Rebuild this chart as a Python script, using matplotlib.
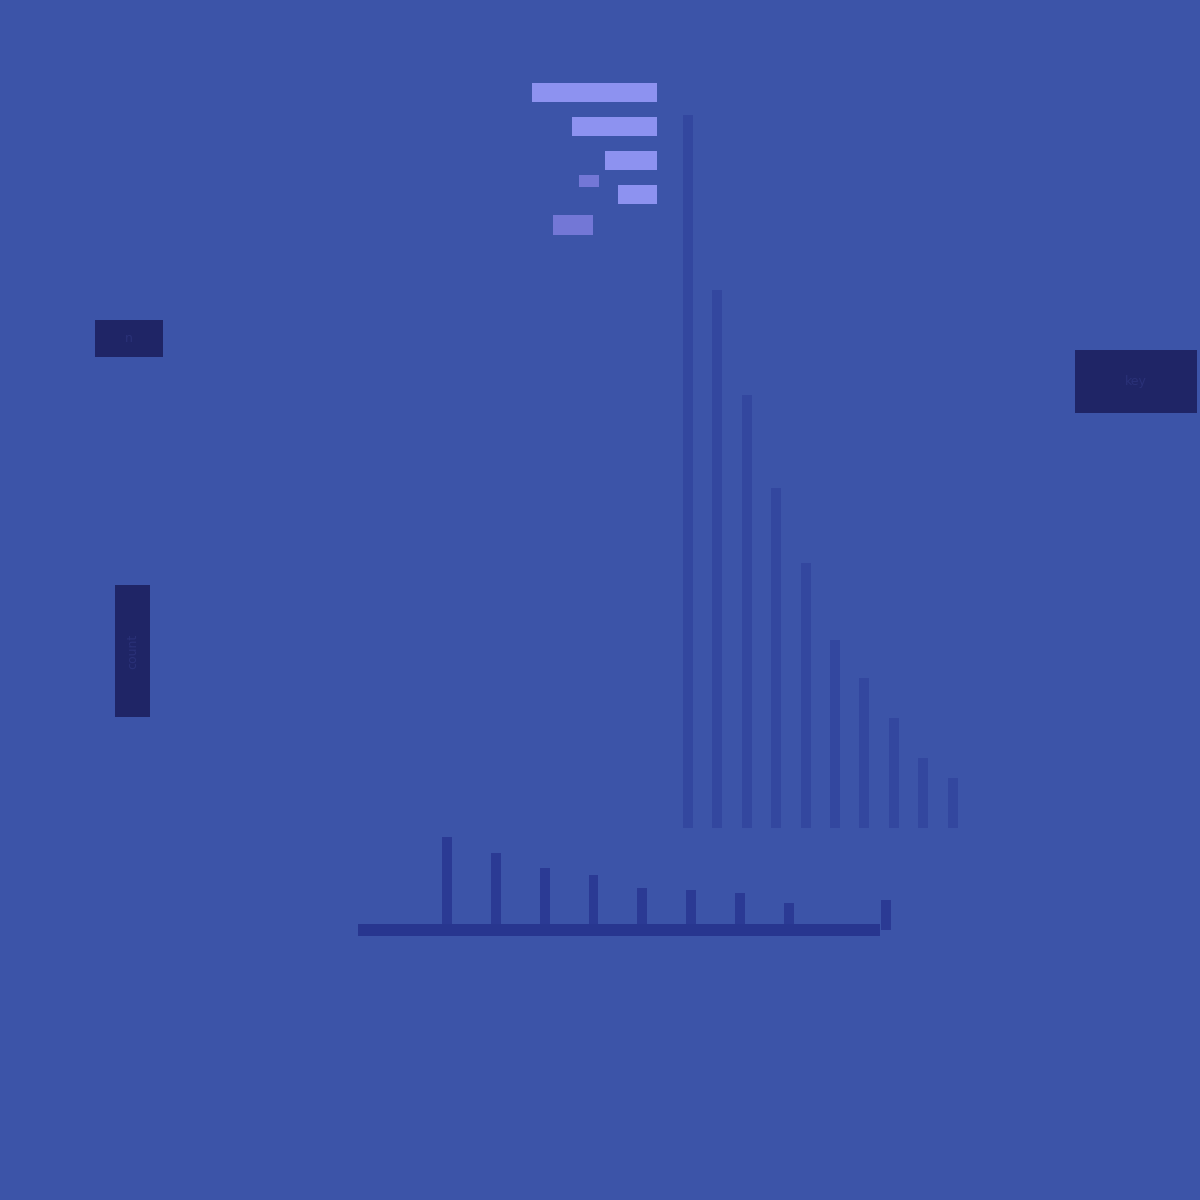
import numpy as np
import matplotlib.pyplot as plt
from matplotlib.patches import Rectangle

# values
tall_values = [713, 538, 433, 340, 265, 188, 150, 110, 70, 50]
low_values = [93, 77, 62, 55, 42, 40, 37, 27, 0, 30]
top_values = [125, 85, 52, 39]

bg = "#3c54a8"
W = H = 1200.0


def fig_rect(x0, y0, x1, y1):
    # pixel box (top-left origin) -> figure fraction [left, bottom, width, height]
    return [x0 / W, 1 - y1 / H, (x1 - x0) / W, (y1 - y0) / H]


fig = plt.figure(figsize=(12, 12), dpi=100, facecolor=bg)

# tall bars
ax_tall = fig.add_axes(fig_rect(673.3, 108, 967.3, 828))
ax_tall.bar(np.arange(len(tall_values)), tall_values, width=0.34,
            color="#33479f", edgecolor="none")
ax_tall.set_xlim(-0.5, len(tall_values) - 0.5)
ax_tall.set_ylim(0, 720)
ax_tall.axis("off")

# short bars on a thick baseline
ax_low = fig.add_axes(fig_rect(358, 830, 880, 930))
ax_low.bar(np.arange(len(low_values)), low_values, width=0.2,
           color="#2b3a94", edgecolor="none", clip_on=False)
ax_low.set_xlim(-1.824, 8.87)
ax_low.set_ylim(0, 100)
ax_low.set_facecolor("none")
for s in ["top", "right", "left"]:
    ax_low.spines[s].set_visible(False)
ax_low.spines["bottom"].set_linewidth(8.6)
ax_low.spines["bottom"].set_color("#28368f")
ax_low.spines["bottom"].set_capstyle("butt")
ax_low.set_xticks([])
ax_low.set_yticks([])

# horizontal light bars, growing to the left
ax_top = fig.add_axes(fig_rect(517, 75, 657, 212))
ax_top.barh(np.arange(len(top_values)), top_values, height=0.55,
            color="#8d92f0", edgecolor="none")
ax_top.set_xlim(140, 0)
ax_top.set_ylim(len(top_values) - 0.5, -0.5)
ax_top.axis("off")

# faint labels near the light bars
fig.text(589 / W, 1 - 181 / H, "–––", ha="center", va="center", fontsize=8,
         color="#7377d6",
         bbox=dict(boxstyle="square,pad=0.1", fc="#7377d6", ec="none"))
fig.text(573 / W, 1 - 225 / H, "Total", ha="center", va="center", fontsize=11,
         color="#7377d6",
         bbox=dict(boxstyle="square,pad=0.15", fc="#7377d6", ec="none"))

# dark label boxes
box = "#1f2566"
for (x0, y0, x1, y1), txt, rot in [((95, 320, 163, 357), "n", 0),
                                   ((115, 585, 150, 717), "count", 90),
                                   ((1075, 350, 1197, 413), "key", 0)]:
    fig.patches.append(Rectangle((x0 / W, 1 - y1 / H), (x1 - x0) / W,
                                 (y1 - y0) / H, transform=fig.transFigure,
                                 facecolor=box, edgecolor="none"))
    fig.text((x0 + x1) / 2 / W, 1 - (y0 + y1) / 2 / H, txt, ha="center",
             va="center", rotation=rot, fontsize=9, color="#2a3178")

fig.savefig("out.png", dpi=100, facecolor=bg)
